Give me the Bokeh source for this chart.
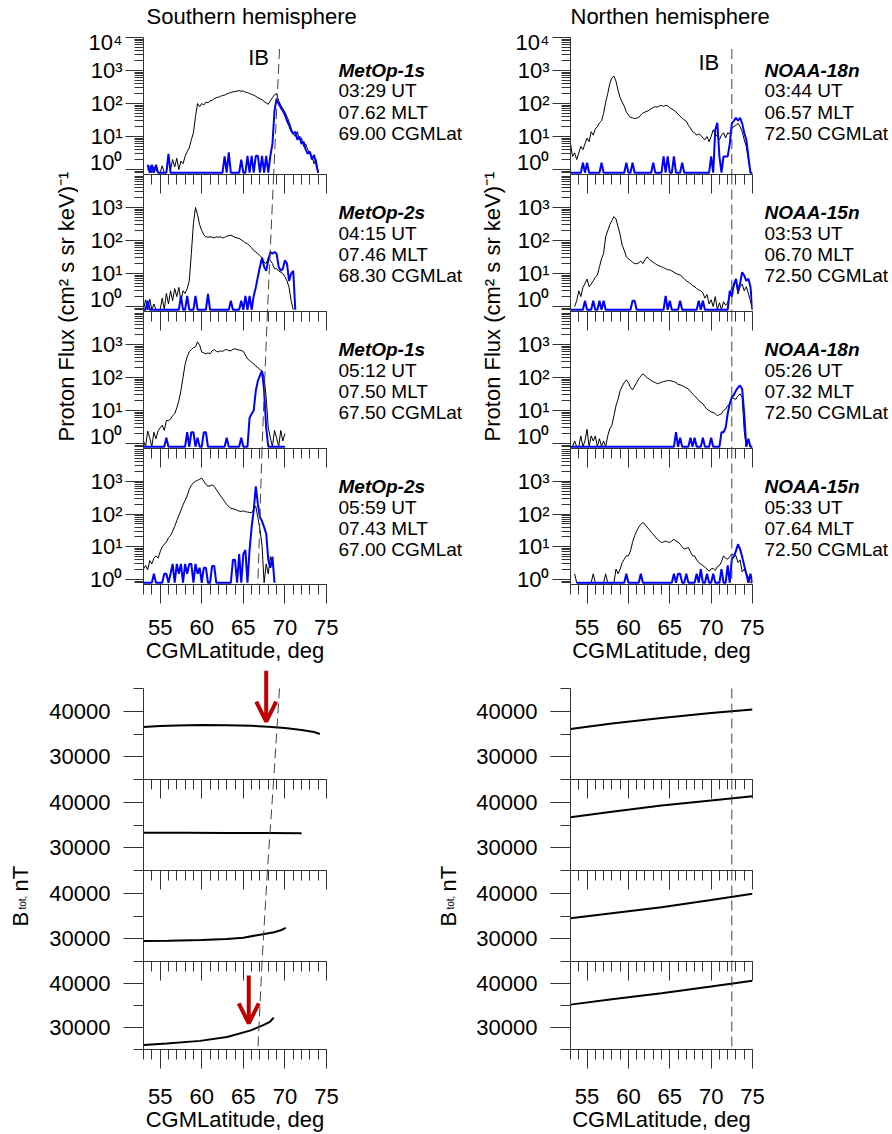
import numpy as np
from bokeh.plotting import figure
from bokeh.layouts import row, column
from bokeh.models import (Range1d, FixedTicker, LinearAxis, Label, Arrow, OpenHead,
                          CustomJSTickFormatter)
from bokeh.embed import file_html
from bokeh.resources import INLINE

_ = float("nan")

# ---------------- shared axes ----------------
lat_min, lat_max = 53, 75
lat_start, lat_step = 53.0, 0.25          # flux samples: 4 per degree, rows below = one degree
x_major = [55, 60, 65, 70, 75]
x_minor = list(range(53, 76))
b_major = [30000, 40000]
b_minor = [25000, 35000, 45000]
b_min, b_max = 25000, 45000

# ---------------- panel annotations ----------------
hemisphere_titles = ["Southern hemisphere", "Northen hemisphere"]
south_sat = ["MetOp-1s", "MetOp-2s", "MetOp-1s", "MetOp-2s"]
south_ut = ["03:29", "04:15", "05:12", "05:59"]
south_mlt = ["07.62", "07.46", "07.50", "07.43"]
south_ib = [69.00, 68.30, 67.50, 67.00]
north_sat = ["NOAA-18n", "NOAA-15n", "NOAA-18n", "NOAA-15n"]
north_ut = ["03:44", "03:53", "05:26", "05:33"]
north_mlt = ["06.57", "06.70", "07.32", "07.64"]
north_ib = [72.50, 72.50, 72.50, 72.50]

# ---------------- proton flux, southern hemisphere ----------------
s1_black = [_, _, 1.0, 1.3,  0, 1.2, 1.0, 0,  0, 1.3, 0, 0,  2.5, 1.0, 2.0, 1.2,
            2.2, 1.0, 1.8, 1.5,  2.5, 3.5, 4.5, 8,  13, 40, 100, 80,  100, 90, 110, 105,
            120, 125, 140, 150,  155, 165, 175, 180,  195, 205, 215, 225,  230, 240, 245, 235,
            240, 220, 215, 200,  190, 180, 165, 150,  140, 130, 115, 105,  95, 120, 150, 185,
            200, 120, 90, 70,  55, 40, 28, 18,  12, 10, 14, 8,  9, 5, 6, 4,
            3, 2.5, 1.5, 2.0,  0]
s1_blue = [_, _, 1.4, 0,  1.4, 0, 1.4, 0,  0, 0, 0, 0,  3, 0, 0, 0,
           0, 0, 0, 0,  0, 0, 0, 0,  0, 0, 0, 0,  0, 0, 0, 0,
           0, 0, 0, 0,  0, 0, 0, 2.5,  0, 3.3, 0, 0,  0, 0, 0, 2,
           0, 0, 2.6, 0,  2.6, 0, 2.6, 2.6,  0, 2.6, 0, 2.6,  0, 2.6, 6, 60,
           140, 100, 75, 60,  45, 30, 22, 15,  12, 14, 8, 10,  6, 7, 4, 3,
           3.5, 2, 2.8, 1.5,  0]
s2_black = [0, 1.6, 0, 1.7,  0, 1.2, 0, 0,  0, 1.8, 0, 2.5,  1.2, 3.0, 1.5, 3.5,
            2.0, 3.8, 1.5, 3.0,  2.5, 3.5, 6, 40,  330, 1000, 600, 300,  200, 150, 130, 125,
            130, 125, 120, 130,  125, 130, 120, 125,  135, 140, 145, 135,  125, 120, 115, 105,
            95, 85, 80, 70,  60, 50, 45, 40,  35, 30, 22, 20,  30, 25, 20, 14,
            14, 12, 11, 10,  8, 6, 3.8, 1.5,  0]
s2_blue = [0, 0, 1.5, 0,  0, 0, 0, 0,  0, 0, 0, 0,  0, 0, 0, 0,
           0, 0, 2.1, 0,  0, 2.1, 0, 0,  0, 2.1, 0, 0,  0, 0, 0, 2.4,
           0, 0, 0, 0,  0, 0, 0, 0,  0, 0, 1.5, 0,  0, 0, 0, 1.5,
           0, 2.1, 0, 2.1,  0, 2.1, 3.8, 8,  16, 30, 16, 12,  25, 45, 40, 45,
           40, 16, 12, 14,  25, 20, 6, 10,  12, 0]
s3_black = [1.2, 0, 2.4, 1.5,  0, 2.2, 1.4, 2.4,  3.0, 3.6, 2.5, 5,  5, 5.5, 7, 8,
            12, 20, 40, 100,  250, 420, 600, 700,  800, 850, 1200, 950,  590, 560, 520, 560,
            520, 650, 700, 620,  600, 640, 620, 680,  700, 660, 640, 720,  740, 700, 680, 660,
            620, 480, 365, 330,  290, 260, 220, 200,  175, 155, 100, 25,  3, 1.5, 0, 2.5,
            1.5, 0, 2.5, 1.2,  2]
s3_blue = [0, 0, 0, 0,  0, 0, 0, 0,  0, 0, 0, 1.5,  0, 0, 0, 0,
           0, 0, 0, 0,  0, 2.2, 0, 2.2,  2.2, 0, 1.5, 0,  0, 2.2, 2.2, 0,
           0, 0, 0, 0,  0, 0, 0, 0,  1.5, 0, 0, 0,  0, 0, 0, 1.5,
           0, 0, 0, 6,  8, 10, 40, 80,  115, 160, 40, 3,  0, 0, 0, 0,
           0, 0, 0, 0,  0]
s4_black = [2.1, 2.7, 2.0, 3.8,  3.0, 4.5, 5.3, 4.5,  7, 10, 12, 14,  19, 22, 30, 42,
            62, 90, 130, 190,  260, 360, 560, 750,  900, 1000, 1070, 1150,  1260, 1000, 800, 710,
            720, 780, 700, 560,  450, 360, 300, 240,  195, 170, 150, 145,  140, 130, 123, 120,
            125, 118, 115, 112,  110, 140, 175, 77,  34, 11, 0, 3,  1.5, 5, 2.5]
s4_blue = [0, 0, 0, 0,  0, 1.5, 0, 0,  0, 0, 1.5, 1.5,  0, 1.5, 3, 0,
           3, 1.5, 3, 0,  3, 1.5, 3, 3,  0, 3, 1.5, 2.3,  0, 2.3, 2.3, 0,
           0, 2.6, 2.6, 0,  0, 0, 0, 0,  0, 0, 0, 4,  4, 0, 6, 0,
           6, 8, 0, 8,  40, 130, 700, 200,  80, 60, 40, 25,  4, 2.3, 5, 0]

# ---------------- proton flux, northern hemisphere ----------------
n1_black = [6, 2.5, 3.2, 2.0,  3.2, 5, 4, 6,  9, 7, 14, 11,  17, 20, 26, 30,
            50, 110, 200, 400,  600, 680, 470, 250,  150, 110, 83, 55,  45, 38, 37, 35,
            36, 38, 45, 52,  55, 58, 63, 70,  75, 80, 78, 85,  87, 82, 88, 85,
            75, 68, 63, 55,  48, 41, 36, 32,  29, 22, 18, 14,  13, 11, 12, 11,
            9, 8, 10, 7,  10, 16, 12, 10,  8, 11, 13, 9,  13, 12, 18, 20,
            22, 25, 20, 14,  8, 5, 2, 0,  0]
n1_blue = [0, 0, 0, 0,  0, 0, 1.6, 0,  1.6, 0, 0, 0,  0, 0, 0, 1.6,
           0, 0, 0, 0,  0, 0, 0, 0,  0, 0, 0, 1.6,  0, 0, 1.6, 0,
           0, 0, 0, 0,  0, 0, 0, 0,  1.6, 0, 0, 0,  0, 2.5, 0, 2.5,
           0, 0, 2.5, 0,  0, 0, 1.6, 0,  0, 0, 0, 0,  0, 0, 0, 0,
           0, 0, 0, 0,  2.5, 0, 16, 26,  2.5, 0, 2.5, 2.5,  2.5, 6, 25, 30,
           37, 30, 37, 25,  13, 8, 2.5, 0,  0]
n2_black = [_, _, 1.0, 1.5,  3, 2.0, 3.8, 5,  6.8, 4, 4.8, 6,  7.7, 9, 16, 28,
            40, 130, 200, 300,  400, 530, 450, 260,  150, 72, 50, 32,  28, 25, 22, 20,
            20, 21, 24, 20,  26, 32, 28, 24,  22, 20, 18, 17,  16, 15, 14, 13,
            13, 12, 11, 10,  9.5, 9, 8, 7,  6, 5.5, 5, 4.3,  4, 3.5, 3.2, 3,
            2.6, 1.8, 2.3, 1.2,  1.6, 1.0, 2.0, 0,  1.3, 0, 1.4, 1.1,  1.3, 2.2, 3.8, 4,
            6, 2.4, 4, 4.8,  3, 4, 2.5, 1.5,  0]
n2_blue = [0, 0, 0, 0,  0, 0, 0, 1.5,  0, 0, 0, 1.5,  0, 0, 1.5, 0,
           1.5, 0, 0, 0,  0, 0, 0, 0,  0, 0, 0, 0,  0, 0, 1.5, 1.5,
           0, 0, 0, 0,  0, 0, 0, 0,  0, 0, 0, 0,  0, 0, 2.1, 0,
           1.5, 0, 0, 0,  0, 1.5, 0, 0,  0, 0, 0, 0,  0, 0, 1.5, 0,
           1.5, 0, 0, 0,  0, 0, 0, 0,  0, 0, 0, 0,  0, 3, 2, 4.8,
           6.9, 3, 5, 11,  8.7, 6, 7, 4,  0]
n3_black = [0, 0, 1.2, 0,  0, 1.7, 0, 1.2,  2.7, 0, 1.7, 1.2,  1.7, 0, 1.4, 0,
            1.2, 0, 1.7, 2.8,  3.5, 7, 14, 22,  40, 55, 70, 85,  70, 50, 42, 55,
            70, 92, 110, 130,  115, 100, 90, 81,  75, 70, 65, 68,  72, 76, 78, 80,
            81, 78, 75, 70,  62, 60, 57, 52,  48, 45, 38, 32,  28, 24, 20, 18,
            16, 13, 11, 10,  9, 8.8, 8, 7,  7.5, 8, 10, 11,  14, 16, 25, 23,
            22, 28, 32, 25,  2.4, 0, 1.2, 0,  0]
n3_blue = [0, 0, 0, 0,  0, 0, 0, 0,  0, 0, 0, 0,  0, 0, 0, 0,
           0, 0, 0, 0,  0, 0, 0, 0,  0, 0, 0, 0,  0, 0, 0, 0,
           0, 0, 0, 0,  0, 0, 0, 0,  0, 0, 0, 0,  0, 0, 0, 0,
           0, 0, 0, 2.2,  0, 1.5, 0, 0,  0, 0, 1.5, 0,  1.5, 0, 0, 0,
           1.5, 0, 0, 0,  1.5, 0, 0, 0,  0, 2.2, 2.2, 3,  8, 16, 25, 30,
           40, 50, 57, 45,  8, 0, 1.4, 0,  0]
n4_black = [_, _, 1.5, 0,  0, 0, 0, 0,  0, 0, 0, 1.5,  0, 0, 0, 0,
            0, 1.5, 0, 0,  0, 0, 2.1, 1.5,  2.1, 3.3, 4.2, 5.3,  5.3, 7.5, 13.6, 22,
            30, 40, 49, 55,  49, 40, 34, 28,  24, 20, 17, 15,  13.6, 14, 15, 14,
            13.6, 15, 17, 15,  14, 12, 10, 8.5,  9, 9.5, 7, 5.3,  5.3, 4, 3.3, 3,
            2.7, 2.4, 2.1, 1.8,  2.1, 2.2, 1.9, 2.5,  2.7, 3.5, 5.3, 4.5,  4.2, 5, 6, 5.5,
            5.3, 3.3, 4, 1.7,  2.1, 1.5, 1.2, 0,  0]
n4_blue = [_, _, _, 0,  0, 0, 0, 0,  0, 0, 0, 0,  0, 0, 0, 0,
           0, 0, 0, 0,  0, 0, 0, 0,  0, 0, 0, 1.5,  0, 0, 0, 0,
           0, 0, 1.5, 0,  0, 0, 0, 0,  0, 0, 0, 0,  0, 0, 0, 0,
           0, 0, 1.5, 0,  1.5, 1.5, 0, 0,  1.5, 0, 0, 0,  0, 1.5, 0, 2.1,
           0, 0, 1.5, 0,  0, 1.5, 0, 0,  0, 2.1, 0, 0,  2.7, 0, 4.2, 5,
           7.5, 12, 8.5, 5,  2.7, 1.5, 0, 1.5,  0]

# ---------------- total field B along the orbit (nT) ----------------
bs1_lat = [53, 55, 57, 60, 63, 66, 68, 70, 72, 73.5, 74.2]
bs1_val = [36520, 36750, 36880, 36960, 36950, 36800, 36600, 36300, 35870, 35430, 35000]
bs2_lat = [53, 58, 63, 68, 72]
bs2_val = [33300, 33280, 33260, 33230, 33200]
bs3_lat = [53, 56, 60, 63, 65, 67, 68.7, 69.5, 70.1]
bs3_val = [29480, 29560, 29720, 29960, 30220, 30900, 31440, 31850, 32390]
bs4_lat = [53, 55.8, 59.8, 63.05, 65.9, 67.46, 68.2, 68.66]
bs4_val = [26020, 26370, 26960, 27830, 29350, 30580, 31300, 32240]
bn_lat = [53, 58, 64, 70, 75]
bn1_val = [36100, 37300, 38500, 39600, 40400]
bn2_val = [36700, 37900, 39300, 40400, 41300]
bn3_val = [34500, 35600, 36900, 38500, 39900]
bn4_val = [35200, 36400, 37800, 39300, 40600]

# red arrows (southern B panels 1 and 4)
arrow_lat = [67.75, 65.65]
arrow_b_from = [48900, 41800]
arrow_b_to = [37700, 30930]

# ---------------- styling ----------------
FONT = "Liberation Sans"
AXC = "#333333"
RED = "#c00000"
FMIN, FMAX = 10 ** -0.15, 1e4
FLOOR = 0.8
FH, BH = 137, 91
B1_EXTRA = 23                      # px above the first B panel (room for the arrow tail)
STRIP_H = 29                       # title strip height
P1_TOP = 8                         # top border of first flux panel
FRAME_TOPS = [P1_TOP, P1_TOP + FH, P1_TOP + 2 * FH, P1_TOP + 3 * FH]   # in the flux row
POW = CustomJSTickFormatter(code="""
const sup = ['\\u2070', '\\u00b9', '\\u00b2', '\\u00b3', '\\u2074'];
const e = Math.round(Math.log10(tick));
return '10' + sup[e];
""")
BLANK = CustomJSTickFormatter(code="return '';")


def lat_of(vals):
    return lat_start + lat_step * np.arange(len(vals))


def with_floor(vals):
    a = np.array(vals, dtype=float)
    return np.where(a == 0, FLOOR, a)


def flux_minor():
    m = [0.8, 0.9]
    for d in range(4):
        m += [f * 10 ** d for f in range(2, 10)]
    return m


def common(p):
    p.outline_line_color = None
    p.xgrid.visible = False
    p.ygrid.visible = False
    p.background_fill_color = "white"
    p.border_fill_color = "white"


def style_axis(ax):
    ax.axis_line_color = AXC
    ax.major_tick_line_color = AXC
    ax.minor_tick_line_color = AXC
    ax.axis_line_width = 1


def hanging_axis():
    ax = LinearAxis(ticker=FixedTicker(ticks=x_major, minor_ticks=x_minor), formatter=BLANK,
                    major_tick_in=19, major_tick_out=0, minor_tick_in=10, minor_tick_out=0,
                    major_label_text_font_size="0px", major_label_standoff=0)
    style_axis(ax)
    return ax


def bottom_axis(standoff, lab_standoff):
    ax = LinearAxis(ticker=FixedTicker(ticks=x_major, minor_ticks=x_minor),
                    major_tick_in=0, major_tick_out=19, minor_tick_in=0, minor_tick_out=10,
                    major_label_text_font=FONT, major_label_text_font_size="22px",
                    major_label_text_color="black", major_label_standoff=standoff,
                    axis_label="CGMLatitude, deg", axis_label_text_font=FONT,
                    axis_label_text_font_size="22px", axis_label_text_font_style="normal",
                    axis_label_text_color="black", axis_label_standoff=lab_standoff)
    style_axis(ax)
    return ax


def ib_segments(ib):
    tops, bots = [], []
    for k in range(4):
        t = ib[0] + (ib[0] - ib[1]) / 2 if k == 0 else (ib[k - 1] + ib[k]) / 2
        b = ib[3] - (ib[2] - ib[3]) / 2 if k == 3 else (ib[k] + ib[k + 1]) / 2
        tops.append(t)
        bots.append(b)
    return tops, bots


def flux_panel(k, black, blue, seg, left_b, frame_w, right_b, ib_label=None):
    top = P1_TOP if k == 0 else 0
    bottom = 80 if k == 3 else 0
    fig_w = left_b + frame_w + right_b
    p = figure(width=fig_w, height=FH + top + bottom, x_range=Range1d(lat_min, lat_max),
               y_range=Range1d(FMIN, FMAX), y_axis_type="log", x_axis_location=None,
               toolbar_location=None, output_backend="svg", title=None,
               min_border_left=left_b, min_border_right=right_b,
               min_border_top=top, min_border_bottom=bottom)
    common(p)
    yax = p.yaxis[0]
    yax.ticker = FixedTicker(ticks=[1, 10, 100, 1000] + ([10000] if k == 0 else []),
                             minor_ticks=flux_minor())
    yax.formatter = POW
    yax.major_tick_in = 0
    yax.major_tick_out = 18
    yax.minor_tick_in = 0
    yax.minor_tick_out = 9
    yax.major_label_standoff = 3
    yax.major_label_text_font = FONT
    yax.major_label_text_font_size = "22px"
    yax.major_label_text_color = "black"
    style_axis(yax)
    if k > 0:
        p.add_layout(hanging_axis(), "above")
    if k == 3:
        p.add_layout(bottom_axis(16, 0), "below")

    p.line(lat_of(black), with_floor(black), line_color="black", line_width=1)
    p.line(lat_of(blue), with_floor(blue), line_color="#0000ff", line_width=2)
    y_top = 10 ** 3.65 if k == 0 else FMAX
    p.line([seg[0], seg[1]], [y_top, FMIN], line_color="#444444", line_width=1, line_dash="10 5")
    if ib_label is not None:
        p.add_layout(Label(x=ib_label[0], y=ib_label[1], text="IB", text_font=FONT,
                           text_font_size="22px", text_align="center", text_baseline="middle",
                           text_color="black"))
    return p


def b_panel(k, lat, vals, seg, left_b, frame_w, right_b, arrow=None):
    top_px = B1_EXTRA if k == 0 else 0
    bottom = 82 if k == 3 else 0
    fig_w = left_b + frame_w + right_b
    y_hi = b_max + top_px * (b_max - b_min) / BH
    p = figure(width=fig_w, height=BH + top_px + bottom, x_range=Range1d(lat_min, lat_max),
               y_range=Range1d(b_min, y_hi), x_axis_location=None,
               toolbar_location=None, output_backend="svg", title=None,
               min_border_left=left_b, min_border_right=right_b,
               min_border_top=0, min_border_bottom=bottom)
    common(p)
    yax = p.yaxis[0]
    yax.bounds = (b_min, b_max)
    yax.ticker = FixedTicker(ticks=b_major, minor_ticks=b_minor)
    yax.major_tick_in = 0
    yax.major_tick_out = 20
    yax.minor_tick_in = 0
    yax.minor_tick_out = 10
    yax.major_label_standoff = 13
    yax.major_label_text_font = FONT
    yax.major_label_text_font_size = "22px"
    yax.major_label_text_color = "black"
    style_axis(yax)
    if k > 0:
        p.add_layout(hanging_axis(), "above")
    if k == 3:
        p.add_layout(bottom_axis(20, 0), "below")
    p.line(lat, vals, line_color="black", line_width=2)
    p.line([seg[0], seg[1]], [b_max, b_min], line_color="#444444", line_width=1, line_dash="10 5")
    if arrow is not None:
        p.add_layout(Arrow(end=OpenHead(size=20, line_width=4, line_color=RED),
                           x_start=arrow[0], y_start=arrow[1], x_end=arrow[0], y_end=arrow[2],
                           line_width=4, line_color=RED))
    return p


def blank_fig(w, h):
    p = figure(width=w, height=h, x_range=Range1d(0, w), y_range=Range1d(h, 0),
               x_axis_location=None, y_axis_location=None, toolbar_location=None,
               output_backend="svg", title=None, min_border_left=0, min_border_right=0,
               min_border_top=0, min_border_bottom=0)
    common(p)
    return p


def rot_label(p, x, y, text, size, align="center", baseline="middle"):
    p.add_layout(Label(x=x, y=y, text=text, angle=np.pi / 2, text_font=FONT,
                       text_font_size=size, text_align=align, text_baseline=baseline,
                       text_color="black"))


def text_fig(w, h, sats, uts, mlts, ibs):
    p = blank_fig(w, h)
    for k in range(4):
        lines = [sats[k], uts[k] + " UT", mlts[k] + " MLT", "%.2f CGMLat" % ibs[k]]
        rels = [33, 53, 74.7, 96.3] if k == 0 else [38, 58.5, 80, 100.5]
        for j, (txt, rel) in enumerate(zip(lines, rels)):
            p.add_layout(Label(x=0, y=FRAME_TOPS[k] + rel, text=txt, text_font=FONT,
                               text_font_size="19px",
                               text_font_style="bold italic" if j == 0 else "normal",
                               text_align="left", text_baseline="middle", text_color="black"))
    return p


# ---------------- build panels ----------------
FLUX_H = 665 - STRIP_H
B_H = 469

s_blacks = [s1_black, s2_black, s3_black, s4_black]
s_blues = [s1_blue, s2_blue, s3_blue, s4_blue]
n_blacks = [n1_black, n2_black, n3_black, n4_black]
n_blues = [n1_blue, n2_blue, n3_blue, n4_blue]

s_top, s_bot = ib_segments(south_ib)
n_top, n_bot = ib_segments(north_ib)

flux_S, flux_N = [], []
for k in range(4):
    flux_S.append(flux_panel(k, s_blacks[k], s_blues[k], (s_top[k], s_bot[k]), 65, 183, 12,
                             ib_label=(66.84, 10 ** 3.38) if k == 0 else None))
    flux_N.append(flux_panel(k, n_blacks[k], n_blues[k], (n_top[k], n_bot[k]), 60, 182, 12,
                             ib_label=(69.73, 10 ** 3.25) if k == 0 else None))

bs_lat = [bs1_lat, bs2_lat, bs3_lat, bs4_lat]
bs_val = [bs1_val, bs2_val, bs3_val, bs4_val]
bn_val = [bn1_val, bn2_val, bn3_val, bn4_val]
b_S, b_N = [], []
for k in range(4):
    arr = None
    if k == 0:
        arr = (arrow_lat[0], arrow_b_from[0], arrow_b_to[0])
    elif k == 3:
        arr = (arrow_lat[1], arrow_b_from[1], arrow_b_to[1])
    b_S.append(b_panel(k, bs_lat[k], bs_val[k], (s_top[k], s_bot[k]), 103, 183, 104, arrow=arr))
    b_N.append(b_panel(k, bn_lat, bn_val[k], (n_top[k], n_bot[k]), 100, 182, 140))

# hemisphere titles strip
strip = blank_fig(892, STRIP_H)
for tx, xpos in zip(hemisphere_titles, [146, 570]):
    strip.add_layout(Label(x=xpos, y=15.5, text=tx, text_font=FONT, text_font_size="22px",
                           text_align="left", text_baseline="middle", text_color="black"))

# y-axis titles
PF_Y = 306 - STRIP_H
yt_fS = blank_fig(78, FLUX_H)
rot_label(yt_fS, 66, PF_Y, "Proton Flux (cm\u00b2 s sr keV)\u207b\u00b9", "22px")
yt_fN = blank_fig(40, FLUX_H)
rot_label(yt_fN, 21.5, PF_Y, "Proton Flux (cm\u00b2 s sr keV)\u207b\u00b9", "22px")

yt_bS = blank_fig(40, B_H)
rot_label(yt_bS, 20, 261, "B", "22px", align="left", baseline="alphabetic")
rot_label(yt_bS, 22, 244, "tot,", "10px", align="left", baseline="alphabetic")
rot_label(yt_bS, 20, 226, "nT", "22px", align="left", baseline="alphabetic")
yt_bN = blank_fig(40, B_H)
rot_label(yt_bN, 18, 261, "B", "22px", align="left", baseline="alphabetic")
rot_label(yt_bN, 20, 244, "tot,", "10px", align="left", baseline="alphabetic")
rot_label(yt_bN, 18, 226, "nT", "22px", align="left", baseline="alphabetic")

# satellite / time annotations to the right of the flux panels
tx_S = text_fig(470 - 78 - (65 + 183 + 12), FLUX_H, south_sat, south_ut, south_mlt, south_ib)
tx_N = text_fig(422 - 40 - (60 + 182 + 12), FLUX_H, north_sat, north_ut, north_mlt, north_ib)

top_row = row(yt_fS, column(*flux_S), tx_S, yt_fN, column(*flux_N), tx_N)
bot_row = row(yt_bS, column(*b_S), yt_bN, column(*b_N))
layout = column(strip, top_row, bot_row)

with open("out.html", "w", encoding="utf-8") as f:
    f.write(file_html(layout, INLINE, title="Proton flux and Btot"))
